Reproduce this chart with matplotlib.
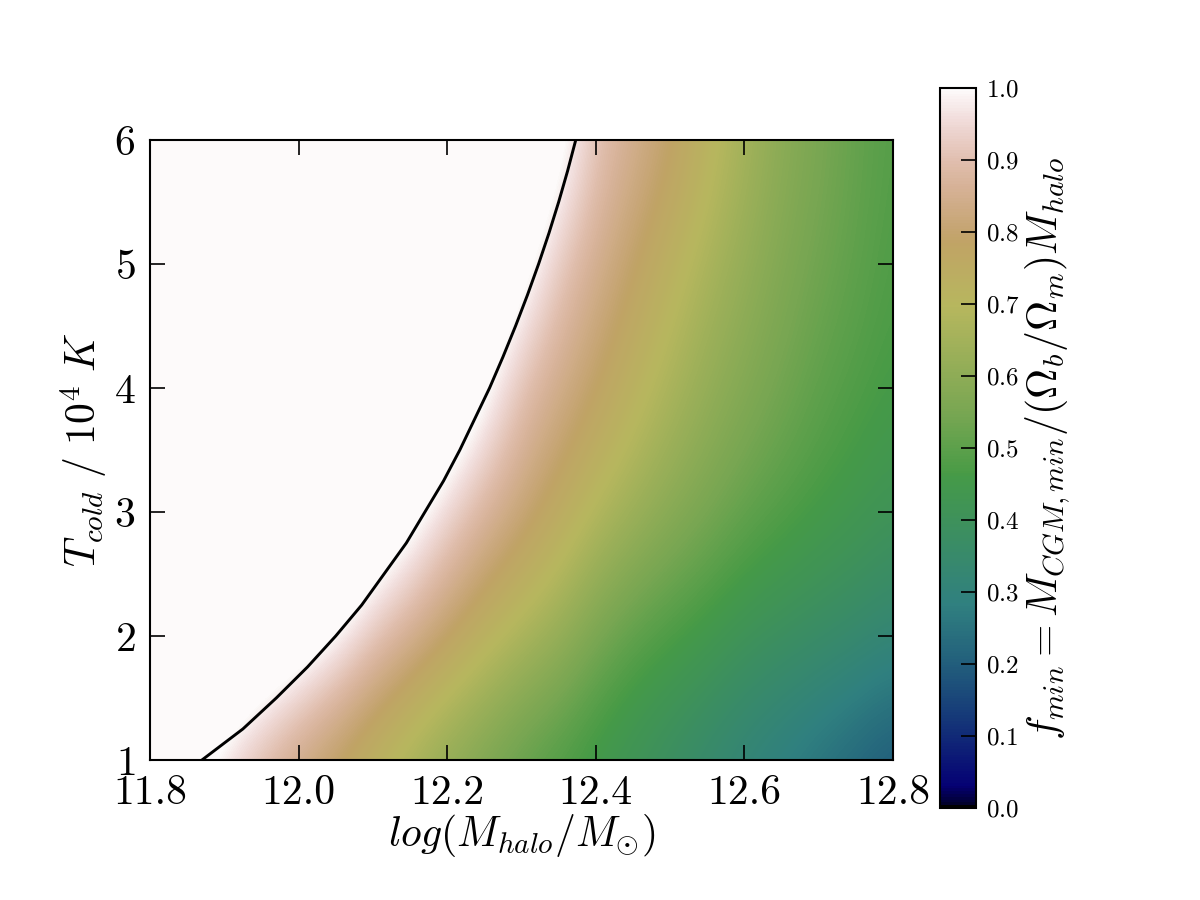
"""f_min map over halo mass and cold-gas temperature, with the f_min = 1 boundary."""
import numpy as np
import matplotlib
matplotlib.use("Agg")
import matplotlib.pyplot as plt

plt.rcParams["font.family"] = "serif"
plt.rcParams["font.serif"] = ["cmr10", "DejaVu Serif"]
plt.rcParams["mathtext.fontset"] = "cm"
plt.rcParams["axes.formatter.use_mathtext"] = True

# grid the field was read on
log_mhalo = [11.80, 11.85, 11.90, 11.95, 12.00, 12.05, 12.10, 12.15, 12.20, 12.25, 12.30,
             12.35, 12.40, 12.45, 12.50, 12.55, 12.60, 12.65, 12.70, 12.75, 12.80]
t_cold = [1, 2, 3, 4, 5, 6]

# f_min per T_cold row (values > 1 are saturated white)
f_t1 = [1.10, 1.03, 0.94, 0.87, 0.81, 0.755, 0.70, 0.644, 0.59, 0.545, 0.50,
        0.467, 0.433, 0.40, 0.367, 0.333, 0.30, 0.27, 0.24, 0.21, 0.18]
f_t2 = [1.25, 1.22, 1.18, 1.13, 1.07, 1.01, 0.92, 0.855, 0.79, 0.727, 0.67,
        0.62, 0.55, 0.50, 0.47, 0.44, 0.406, 0.385, 0.365, 0.345, 0.32]
f_t3 = [1.25, 1.25, 1.25, 1.25, 1.25, 1.17, 1.11, 1.04, 0.95, 0.875, 0.82,
        0.757, 0.69, 0.64, 0.592, 0.554, 0.515, 0.487, 0.462, 0.44, 0.415]
f_t4 = [1.25, 1.25, 1.25, 1.25, 1.25, 1.25, 1.25, 1.17, 1.11, 1.02, 0.90,
        0.844, 0.79, 0.725, 0.668, 0.616, 0.576, 0.54, 0.505, 0.48, 0.46]
f_t5 = [1.25, 1.25, 1.25, 1.25, 1.25, 1.25, 1.25, 1.25, 1.17, 1.11, 1.04,
        0.92, 0.85, 0.79, 0.725, 0.665, 0.615, 0.57, 0.535, 0.505, 0.475]
f_t6 = [1.25, 1.25, 1.25, 1.25, 1.25, 1.25, 1.25, 1.25, 1.25, 1.17, 1.11,
        1.04, 0.915, 0.855, 0.80, 0.725, 0.655, 0.595, 0.555, 0.515, 0.485]

# f_min = 1 boundary
curve_t = [1.0, 1.25, 1.5, 1.75, 2.0, 2.25, 2.5, 2.75, 3.0, 3.25, 3.5,
           3.75, 4.0, 4.25, 4.5, 4.75, 5.0, 5.25, 5.5, 5.75, 6.0]
curve_logm = [11.87, 11.925, 11.97, 12.012, 12.05, 12.085, 12.115, 12.145, 12.17, 12.195, 12.217,
              12.237, 12.257, 12.275, 12.292, 12.308, 12.323, 12.337, 12.35, 12.362, 12.373]

cbar_ticks = [0.0, 0.1, 0.2, 0.3, 0.4, 0.5, 0.6, 0.7, 0.8, 0.9, 1.0]


def main():
    F = np.array([f_t1, f_t2, f_t3, f_t4, f_t5, f_t6])
    dx = (log_mhalo[1] - log_mhalo[0]) / 2
    dy = (t_cold[1] - t_cold[0]) / 2

    fig = plt.figure(figsize=(8, 6), dpi=150)
    ax = fig.add_axes([0.125, 0.1556, 0.6192, 0.6889])
    cax = fig.add_axes([0.7833, 0.1022, 0.030, 0.80])

    im = ax.imshow(F, origin="lower", aspect="auto", cmap="gist_earth",
                   vmin=0.0, vmax=1.0, interpolation="bicubic",
                   extent=(log_mhalo[0] - dx, log_mhalo[-1] + dx,
                           t_cold[0] - dy, t_cold[-1] + dy))
    ax.plot(curve_logm, curve_t, color="black", lw=1.4)

    ax.set_xlim(11.8, 12.8)
    ax.set_ylim(1, 6)
    ax.set_xticks([11.8, 12.0, 12.2, 12.4, 12.6, 12.8])
    ax.set_xticklabels(["11.8", "12.0", "12.2", "12.4", "12.6", "12.8"])
    ax.set_yticks([1, 2, 3, 4, 5, 6])
    ax.tick_params(direction="in", top=True, right=True, length=7, width=0.8,
                   labelsize=20, pad=7)
    for s in ax.spines.values():
        s.set_linewidth(1.0)
    ax.set_xlabel(r"$log(M_{halo}/M_{\odot})$", fontsize=20, labelpad=0)
    ax.set_ylabel(r"$T_{cold}\ /\ 10^4\ K$", fontsize=20, labelpad=2)

    cb = fig.colorbar(im, cax=cax, ticks=cbar_ticks)
    cb.ax.tick_params(direction="in", length=7, width=0.8, labelsize=12, pad=5)
    cb.outline.set_linewidth(1.0)
    cb.set_label(r"$f_{min}=M_{CGM,min}/(\Omega_b/\Omega_m)M_{halo}$",
                 fontsize=20, labelpad=2)

    fig.savefig("out.png", dpi=150)
    plt.close(fig)


if __name__ == "__main__":
    main()
